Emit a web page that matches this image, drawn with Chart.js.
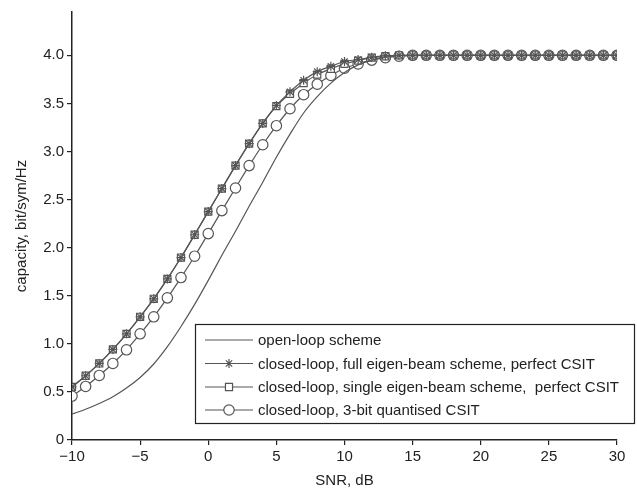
<!DOCTYPE html>
<html>
<head>
<meta charset="utf-8">
<script src="https://cdn.jsdelivr.net/npm/chart.js@4.4.1/dist/chart.umd.min.js"></script>
<style>
  html, body { margin: 0; padding: 0; background: #fff; }
  #wrap { width: 637px; height: 490px; }
</style>
</head>
<body>
<div id="wrap"><canvas id="c" width="637" height="490"></canvas></div>
<script>
// SNR, dB (x values)
const snr = [];
for (let s = -10; s <= 30; s++) snr.push(s);

const xTicks = [-10, -5, 0, 5, 10, 15, 20, 25, 30];
const yTicks = [0, 0.5, 1.0, 1.5, 2.0, 2.5, 3.0, 3.5, 4.0];

const seriesLabels = [
  "open-loop scheme",
  "closed-loop, full eigen-beam scheme, perfect CSIT",
  "closed-loop, single eigen-beam scheme,  perfect CSIT",
  "closed-loop, 3-bit quantised CSIT"
];

const openLoop = [0.27, 0.32, 0.38, 0.45, 0.54, 0.65, 0.79, 0.97, 1.18, 1.41,
  1.66, 1.92, 2.17, 2.43, 2.68, 2.94, 3.18, 3.40, 3.57, 3.71,
  3.82, 3.90, 3.95, 3.98, 3.995, 4.0, 4.0, 4.0, 4.0, 4.0,
  4.0, 4.0, 4.0, 4.0, 4.0, 4.0, 4.0, 4.0, 4.0, 4.0, 4.0];

const fullEigen = [0.553, 0.668, 0.796, 0.942, 1.104, 1.281, 1.468, 1.675, 1.897, 2.134,
  2.375, 2.614, 2.853, 3.081, 3.292, 3.478, 3.62, 3.74, 3.83, 3.885,
  3.935, 3.955, 3.98, 3.995, 4.0, 4.0, 4.0, 4.0, 4.0, 4.0,
  4.0, 4.0, 4.0, 4.0, 4.0, 4.0, 4.0, 4.0, 4.0, 4.0, 4.0];

const singleEigen = [0.553, 0.668, 0.796, 0.942, 1.104, 1.281, 1.468, 1.675, 1.897, 2.134,
  2.375, 2.614, 2.853, 3.081, 3.292, 3.472, 3.60, 3.71, 3.80, 3.86,
  3.91, 3.945, 3.975, 3.99, 4.0, 4.0, 4.0, 4.0, 4.0, 4.0,
  4.0, 4.0, 4.0, 4.0, 4.0, 4.0, 4.0, 4.0, 4.0, 4.0, 4.0];

const quantised = [0.457, 0.557, 0.671, 0.796, 0.938, 1.104, 1.281, 1.478, 1.689, 1.911,
  2.146, 2.385, 2.620, 2.853, 3.07, 3.268, 3.444, 3.59, 3.70, 3.79,
  3.865, 3.91, 3.95, 3.975, 3.99, 4.0, 4.0, 4.0, 4.0, 4.0,
  4.0, 4.0, 4.0, 4.0, 4.0, 4.0, 4.0, 4.0, 4.0, 4.0, 4.0];

const toXY = arr => arr.map((v, i) => ({x: snr[i], y: v}));

const LINE = '#555555';
const AXIS = '#222222';
const FONT = "'Liberation Sans', Arial, sans-serif";

const datasets = [
  {label: seriesLabels[0], data: toXY(openLoop), borderColor: LINE, borderWidth: 1.2,
   pointRadius: 0, cubicInterpolationMode: 'monotone', fill: false},
  {label: seriesLabels[1], data: toXY(fullEigen), borderColor: LINE, borderWidth: 1.2,
   pointStyle: 'star', pointRadius: 4.5, pointBorderColor: LINE, pointBorderWidth: 1.2,
   pointBackgroundColor: LINE, cubicInterpolationMode: 'monotone', fill: false},
  {label: seriesLabels[2], data: toXY(singleEigen), borderColor: LINE, borderWidth: 1.2,
   pointStyle: 'rect', pointRadius: 5, pointBorderColor: LINE, pointBorderWidth: 1.2,
   pointBackgroundColor: '#ffffff', cubicInterpolationMode: 'monotone', fill: false},
  {label: seriesLabels[3], data: toXY(quantised), borderColor: LINE, borderWidth: 1.2,
   pointStyle: 'circle', pointRadius: 5.2, pointBorderColor: LINE, pointBorderWidth: 1.2,
   pointBackgroundColor: '#ffffff', cubicInterpolationMode: 'monotone', fill: false}
];

// Legend box drawn inside the plot
const boxLegend = {
  id: 'boxLegend',
  afterDatasetsDraw(chart) {
    const ctx = chart.ctx;
    const L = 195, T = 324, R = 635, B = 424;
    ctx.save();
    ctx.fillStyle = '#ffffff';
    ctx.fillRect(L, T, R - L, B - T);
    ctx.strokeStyle = AXIS;
    ctx.lineWidth = 1.2;
    ctx.strokeRect(L + 0.5, T + 0.5, R - L - 1, B - T - 1);
    const rows = [340, 363.5, 387, 410];
    chart.data.datasets.forEach((ds, i) => {
      const y = rows[i];
      ctx.strokeStyle = LINE;
      ctx.lineWidth = 1.2;
      ctx.beginPath();
      ctx.moveTo(205, y);
      ctx.lineTo(253, y);
      ctx.stroke();
      if (ds.pointRadius > 0) {
        ctx.fillStyle = ds.pointBackgroundColor;
        ctx.strokeStyle = LINE;
        ctx.lineWidth = ds.pointBorderWidth;
        Chart.helpers.drawPoint(ctx, {
          pointStyle: ds.pointStyle, radius: ds.pointRadius, rotation: 0,
          borderWidth: ds.pointBorderWidth
        }, 229, y);
      }
      ctx.fillStyle = AXIS;
      ctx.font = "15px " + FONT;
      ctx.textAlign = 'left';
      ctx.textBaseline = 'middle';
      ctx.fillText(ds.label, 258, y + 1);
    });
    ctx.restore();
  }
};

new Chart(document.getElementById('c'), {
  type: 'line',
  data: {datasets},
  plugins: [boxLegend],
  options: {
    responsive: false,
    animation: false,
    devicePixelRatio: 1,
    layout: {padding: {left: 0, right: 20, top: 11, bottom: 0}},
    plugins: {legend: {display: false}, tooltip: {enabled: false}},
    scales: {
      x: {
        type: 'linear', min: -10, max: 30,
        afterFit: s => { s.height = 50; },
        afterBuildTicks: s => { s.ticks = xTicks.map(v => ({value: v})); },
        grid: {drawOnChartArea: false, drawTicks: true, tickLength: 5, color: AXIS, lineWidth: 1.2},
        border: {display: true, color: AXIS, width: 1.5},
        ticks: {color: AXIS, font: {size: 15, family: FONT}, padding: 3,
          maxRotation: 0, autoSkip: false,
          callback: v => String(v).replace('-', '\u2212')},
        title: {display: true, text: 'SNR, dB', color: AXIS,
          font: {size: 15, family: FONT}, padding: {top: 0, bottom: 0}}
      },
      y: {
        type: 'linear', min: 0, max: 4.45,
        afterFit: s => { s.width = 72; },
        afterBuildTicks: s => { s.ticks = yTicks.map(v => ({value: v})); },
        grid: {drawOnChartArea: false, drawTicks: true, tickLength: 5, color: AXIS, lineWidth: 1.2},
        border: {display: true, color: AXIS, width: 1.5},
        ticks: {color: AXIS, font: {size: 15, family: FONT}, padding: 3,
          callback: v => v === 0 ? '0' : v.toFixed(1)},
        title: {display: true, text: 'capacity, bit/sym/Hz', color: AXIS,
          font: {size: 15, family: FONT}, padding: {top: 13, bottom: 0}}
      }
    }
  }
});
</script>
</body>
</html>
